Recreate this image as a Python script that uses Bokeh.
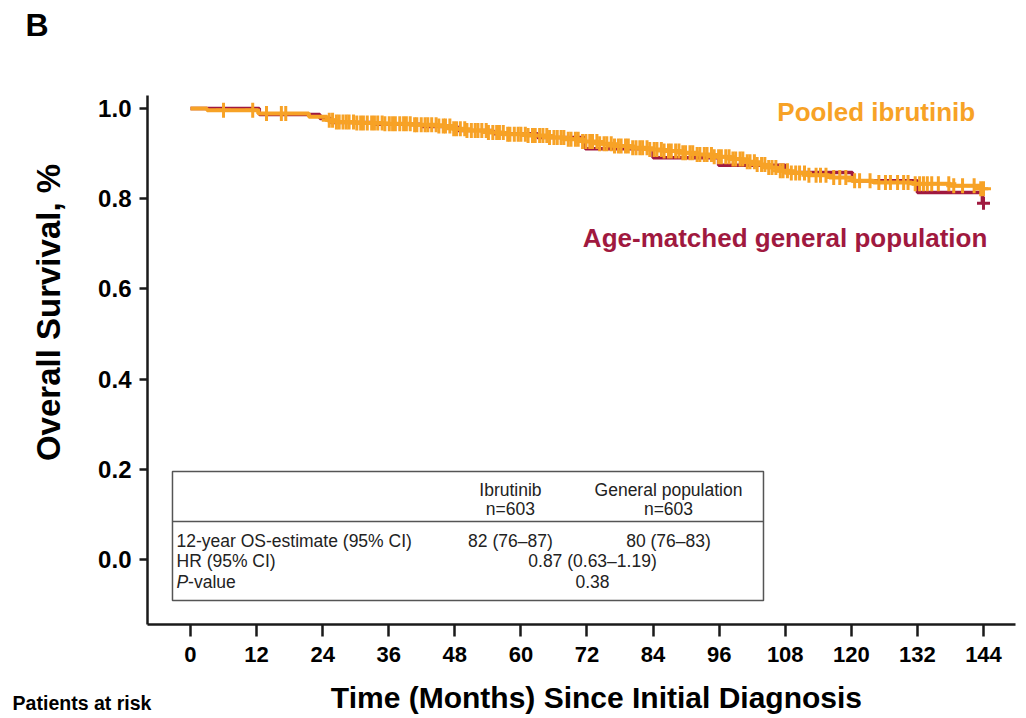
import math
import numpy as np
from bokeh.plotting import figure
from bokeh.models import Label, FixedTicker, PrintfTickFormatter, Range1d, LinearAxis
from bokeh.core.properties import value
from bokeh.embed import file_html
from bokeh.resources import INLINE

# Kaplan-Meier step data (months, survival after each step)
ibr_times = [0, 3.0, 12.3, 21.5, 24.8, 26.5, 30, 35, 40, 45, 47.5, 50, 54, 57, 61, 65,
             68, 71, 74, 77, 80, 83, 86, 89, 92, 95, 98, 100.5, 102.5, 104.5, 106.5,
             109, 112, 116, 120, 124, 131, 138, 143.5]
ibr_surv = [1.0, 0.996, 0.989, 0.982, 0.974, 0.970, 0.968, 0.966, 0.964, 0.961, 0.955,
            0.951, 0.947, 0.943, 0.940, 0.936, 0.932, 0.927, 0.922, 0.917, 0.913, 0.909,
            0.906, 0.902, 0.898, 0.893, 0.888, 0.882, 0.876, 0.869, 0.862, 0.857, 0.852,
            0.847, 0.840, 0.836, 0.833, 0.829, 0.822]

gen_times = [0, 12.5, 23.5, 25.5, 33, 42, 48.5, 55, 63, 71.7, 84, 95.9, 108, 120.2, 132, 143.8]
gen_surv = [1.0, 0.987, 0.978, 0.969, 0.965, 0.960, 0.951, 0.944, 0.936, 0.911, 0.891,
            0.874, 0.858, 0.840, 0.814, 0.790]

# censoring times (months)
ibr_censor = [6.0, 11.3, 13.8, 16.5, 17.3,
              25.2, 25.8, 26.5, 27.0, 27.7, 28.3, 28.8, 29.6, 30.2, 30.9, 31.4, 32.1, 32.9,
              33.4, 34.0, 34.8, 35.3, 36.1, 36.7, 37.2, 38.0, 38.7, 39.2, 39.9, 40.7, 41.1,
              41.9, 42.6, 43.1, 43.8, 44.6, 45.1, 45.9, 46.3, 47.1, 47.8, 48.3, 49.0, 49.8,
              50.2, 51.0, 51.7, 52.2, 52.9, 53.7, 54.1, 54.9, 55.6, 56.1, 56.8, 57.6, 58.0,
              58.8, 59.5, 60.0, 60.8, 61.3, 62.1, 62.6, 63.4, 64.0, 64.7, 65.2, 66.0, 66.6,
              67.3, 67.8, 68.6, 69.1, 69.9, 70.4, 71.2, 71.8, 72.5, 73.0, 73.8, 74.3, 75.1,
              75.6, 76.4, 77.0, 77.7, 78.2, 79.0, 79.5, 80.3, 80.9, 81.6, 82.1, 82.9, 83.4,
              84.2, 84.7, 85.5, 86.0, 86.8, 87.3, 88.1, 88.7, 89.4, 89.9, 90.7, 91.2, 92.0,
              92.5, 93.3, 93.8, 94.6, 95.1, 95.9, 96.4, 97.2, 97.8, 98.5, 99.0, 99.8, 100.3,
              101.1, 101.6, 102.4, 102.9, 103.7, 104.3, 105.0, 105.6, 106.3, 107.1, 107.6,
              108.4, 109.1, 109.9, 110.6, 111.5, 112.3, 113.6, 114.4, 115.4, 116.8, 117.9,
              119.0, 120.6, 121.5, 123.4, 125.0, 126.2, 127.1, 128.4, 129.5, 130.3, 131.6,
              132.4, 133.1, 133.8, 134.6, 135.8, 137.7, 138.6, 140.2, 142.3, 143.5, 144.0]
gen_censor = [144.0]

x_ticks = [0, 12, 24, 36, 48, 60, 72, 84, 96, 108, 120, 132, 144]
y_ticks = [0.0, 0.2, 0.4, 0.6, 0.8, 1.0]

# summary table contents
table_header = [("Ibrutinib", "n=603"), ("General population", "n=603")]
os_label = "12-year OS-estimate (95% CI)"
os_values = ["82 (76\u201387)", "80 (76\u201383)"]
hr_label = "HR (95% CI)"
hr_value = "0.87 (0.63\u20131.19)"
p_value = "0.38"

ORANGE = "#F7A226"
MAROON = "#A0193F"
AXIS = "#1a1a1a"
FONT = "Liberation Sans"

# visible axis extents (months / survival)
X_LO, X_HI = -7.81, 149.8
Y_LO, Y_HI = -0.1441, 1.0288


def step_xy(times, surv, t_end):
    xs, ys = [], []
    for i, (t, s) in enumerate(zip(times, surv)):
        if i > 0:
            xs.append(t)
            ys.append(surv[i - 1])
        xs.append(t)
        ys.append(s)
    xs.append(t_end)
    ys.append(surv[-1])
    return xs, ys


def surv_at(times, surv, t):
    idx = np.searchsorted(np.asarray(times), np.asarray(t), side="right") - 1
    return list(np.asarray(surv)[idx])


# the frame spans the whole canvas; axes sit at fixed data locations
p = figure(width=1026, height=718, output_backend="svg", toolbar_location=None,
           x_range=Range1d(-34.50, 151.81), y_range=Range1d(-0.35255, 1.2395),
           x_axis_location=None, y_axis_location=None,
           min_border=0)
p.outline_line_color = None
p.grid.visible = False
p.background_fill_color = "white"
p.border_fill_color = "white"

# step curves
gx, gy = step_xy(gen_times, gen_surv, 144.0)
p.line(gx, gy, line_color=MAROON, line_width=3.5)
ix, iy = step_xy(ibr_times, ibr_surv, 144.0)
p.line(ix, iy, line_color=ORANGE, line_width=4)

# censor marks
p.scatter(ibr_censor, surv_at(ibr_times, ibr_surv, ibr_censor), marker="cross",
          size=15, line_color=ORANGE, line_width=3)
p.scatter(gen_censor, surv_at(gen_times, gen_surv, gen_censor), marker="cross",
          size=13, line_color=MAROON, line_width=3)

# axes
xaxis = LinearAxis(fixed_location=Y_LO, bounds=(X_LO, X_HI),
                   ticker=FixedTicker(ticks=x_ticks))
yaxis = LinearAxis(fixed_location=X_LO, bounds=(Y_LO, Y_HI),
                   ticker=FixedTicker(ticks=y_ticks),
                   formatter=PrintfTickFormatter(format="%.1f"))
for ax in (xaxis, yaxis):
    ax.axis_line_color = AXIS
    ax.axis_line_width = 2.5
    ax.major_tick_line_color = AXIS
    ax.major_tick_line_width = 2.5
    ax.minor_tick_line_color = None
    ax.major_tick_in = 0
    ax.major_label_text_font = FONT
    ax.major_label_text_font_style = "bold"
    ax.major_label_text_color = "black"
xaxis.major_tick_out = 12
xaxis.major_label_standoff = 11
xaxis.major_label_text_font_size = "22px"
yaxis.major_tick_out = 8
yaxis.major_label_standoff = 8
yaxis.major_label_text_font_size = "24px"
p.add_layout(xaxis, "below")
p.add_layout(yaxis, "left")


def add_label(x, y, text, size, color="black", align="left", angle=0.0, style="bold"):
    p.add_layout(Label(x=x, y=y, text=text, text_align=align, text_baseline="middle",
                       angle=angle, text_font=FONT, text_font_style=style,
                       text_font_size=size, text_color=color))


# axis titles, panel letter, risk-table heading
add_label(-25.78, 0.5477, "Overall Survival, %", "33px", align="center", angle=math.pi / 2)
add_label(73.72, -0.306, "Time (Months) Since Initial Diagnosis", "30px", align="center")
add_label(-29.96, 1.186, "B", "32px")
add_label(-32.3, -0.319, "Patients at risk", "19.5px")

# series labels
add_label(142.5, 0.993, "Pooled ibrutinib", "26px", color=ORANGE, align="right")
add_label(144.7, 0.712, "Age-matched general population", "26px", color=MAROON,
          align="right")

# summary table
p.quad(left=[-3.27], right=[104.05], top=[0.195], bottom=[-0.091], fill_color="white",
       line_color="#555555", line_width=1.5)
p.segment(x0=[-3.27], x1=[104.05], y0=[0.084], y1=[0.084], line_color="#555555",
          line_width=1.5)

tfont = value(FONT)
tsize = value("17.5px")
col_x = [58.1, 86.8]
mid_x = 73.0
row_head = [0.155, 0.111]
row_y = [0.040, -0.0044, -0.0488]
left_x = -2.54

p.text(x=col_x, y=[row_head[0]] * 2, text=[h[0] for h in table_header],
       text_align="center", text_baseline="middle", text_font=tfont,
       text_font_size=tsize, text_color="#222222")
p.text(x=col_x, y=[row_head[1]] * 2, text=[h[1] for h in table_header],
       text_align="center", text_baseline="middle", text_font=tfont,
       text_font_size=tsize, text_color="#222222")
p.text(x=[left_x, left_x], y=row_y[:2], text=[os_label, hr_label], text_align="left",
       text_baseline="middle", text_font=tfont, text_font_size=tsize,
       text_color="#222222")
p.text(x=[left_x], y=[row_y[2]], text=["P"], text_align="left", text_baseline="middle",
       text_font=tfont, text_font_size=tsize, text_font_style="italic",
       text_color="#222222")
p.text(x=[left_x + 2.1], y=[row_y[2]], text=["-value"], text_align="left",
       text_baseline="middle", text_font=tfont, text_font_size=tsize,
       text_color="#222222")
p.text(x=col_x, y=[row_y[0]] * 2, text=os_values, text_align="center",
       text_baseline="middle", text_font=tfont, text_font_size=tsize,
       text_color="#222222")
p.text(x=[mid_x, mid_x], y=row_y[1:], text=[hr_value, p_value], text_align="center",
       text_baseline="middle", text_font=tfont, text_font_size=tsize,
       text_color="#222222")

open("out.html", "w").write(file_html(p, INLINE))
